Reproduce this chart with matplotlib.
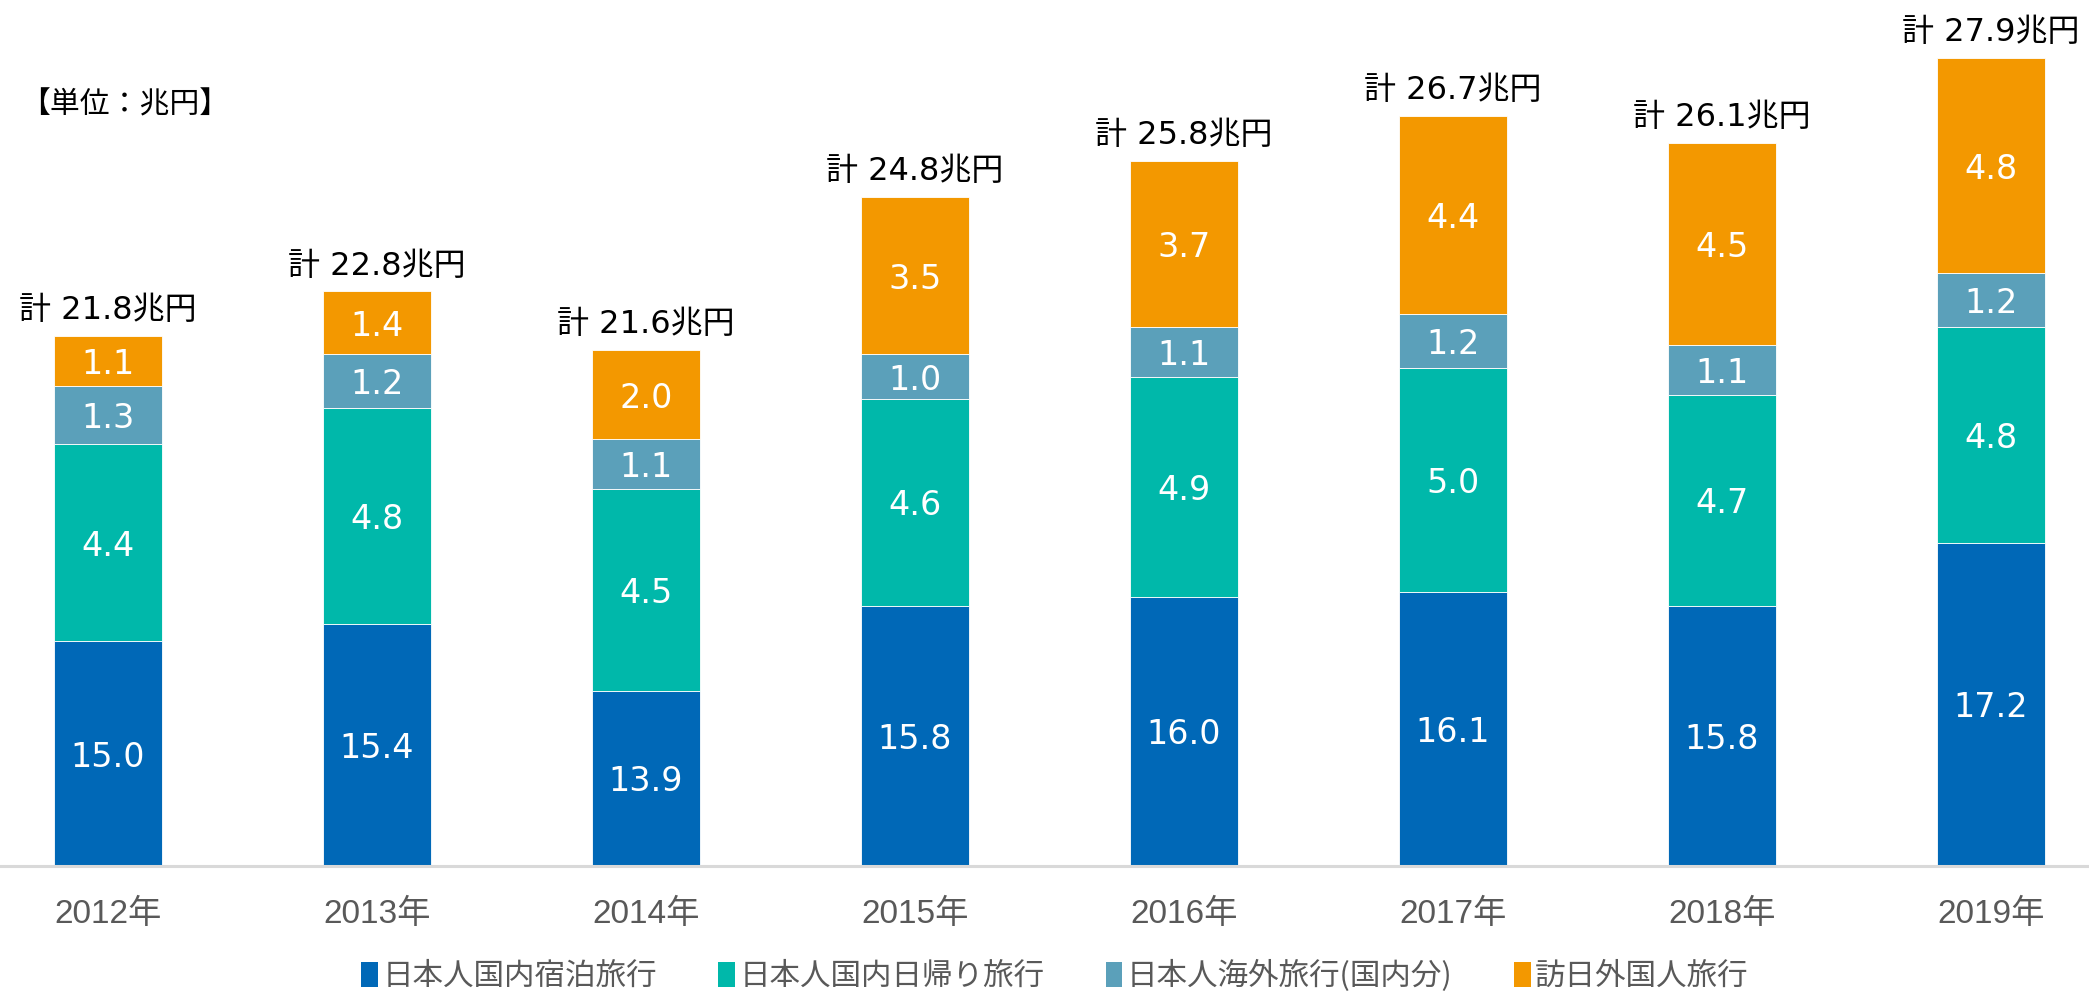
import matplotlib
matplotlib.use("Agg")
import matplotlib.pyplot as plt
from matplotlib.patches import Patch

plt.rcParams['font.family'] = ['DejaVu Sans', 'Noto Sans CJK JP']

years = ['2012年', '2013年', '2014年', '2015年', '2016年', '2017年', '2018年', '2019年']
domestic_stay = [15.0, 15.4, 13.9, 15.8, 16.0, 16.1, 15.8, 17.2]
domestic_day = [4.4, 4.8, 4.5, 4.6, 4.9, 5.0, 4.7, 4.8]
outbound_dom = [1.3, 1.2, 1.1, 1.0, 1.1, 1.2, 1.1, 1.2]
inbound = [1.1, 1.4, 2.0, 3.5, 3.7, 4.4, 4.5, 4.8]
totals = [21.8, 22.8, 21.6, 24.8, 25.8, 26.7, 26.1, 27.9]

series = [
    ('日本人国内宿泊旅行', domestic_stay, '#0068B7'),
    ('日本人国内日帰り旅行', domestic_day, '#00B8AA'),
    ('日本人海外旅行(国内分)', outbound_dom, '#5BA0BA'),
    ('訪日外国人旅行', inbound, '#F39800'),
]

Y_MIN = 10  # the original axis does not start at zero

fig = plt.figure(figsize=(20.89, 9.93), dpi=100)
ax = fig.add_axes([0, 0.1279, 1, 0.8721])

x = list(range(len(years)))
bottoms = [0.0] * len(years)
for name, vals, color in series:
    ax.bar(x, vals, width=0.40, bottom=bottoms, color=color,
           edgecolor='white', linewidth=0.6, zorder=2)
    for i, v in enumerate(vals):
        lo = max(bottoms[i], Y_MIN)
        hi = bottoms[i] + v
        ax.text(i, (lo + hi) / 2, f'{v:.1f}', ha='center', va='center_baseline',
                color='white', fontsize=24, family='DejaVu Sans', zorder=3)
    bottoms = [b + v for b, v in zip(bottoms, vals)]

for i, t in enumerate(totals):
    ax.annotate(f'計 {t:.1f}兆円', (i, bottoms[i]), xytext=(0, 7),
                textcoords='offset points', ha='center', va='bottom',
                fontsize=23, color='black',
                family=['DejaVu Sans', 'Noto Sans CJK JP'])

ax.set_ylim(Y_MIN, Y_MIN + 866 / 44.9)
ax.set_xlim(-0.401, 7.364)
ax.axhline(Y_MIN, color='#D9D9D9', linewidth=2.2, zorder=4, clip_on=False)

ax.set_xticks(x)
ax.set_xticklabels(years, fontsize=24, color='#595959',
                   family=['Liberation Sans', 'Noto Sans CJK JP'])
ax.tick_params(axis='x', length=0, pad=24)
ax.set_yticks([])
for s in ax.spines.values():
    s.set_visible(False)

fig.text(0.0096, 0.894, '【単位：兆円】', fontsize=21.5, color='black',
         family='Noto Sans CJK JP', va='center', ha='left')

handles = [Patch(facecolor=c, label=n) for n, _, c in series]
leg = fig.legend(handles=handles, loc='center', bbox_to_anchor=(0.505, 0.017),
                 ncol=4, frameon=False, handlelength=0.55, handleheight=0.9,
                 handletextpad=0.15, columnspacing=2.0,
                 prop={'family': 'Noto Sans CJK JP', 'size': 22})
for t in leg.get_texts():
    t.set_color('#595959')

fig.savefig('out.png', dpi=100)
